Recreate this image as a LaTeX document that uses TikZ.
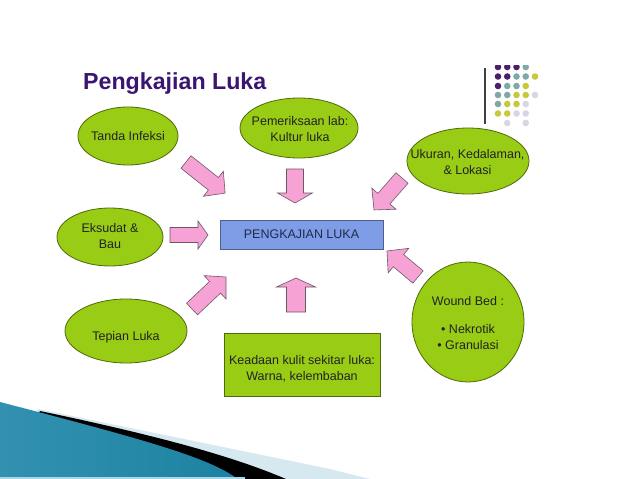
\documentclass[tikz,border=0pt]{standalone}
\usepackage{fontspec}
\setmainfont{Liberation Sans}
\usetikzlibrary{shapes.geometric}
\definecolor{lgreen}{HTML}{99CC14}
\definecolor{gborder}{HTML}{4F6A08}
\definecolor{bluefill}{HTML}{7F9CE6}
\definecolor{blueborder}{HTML}{4D5E8C}
\definecolor{pinkfill}{HTML}{F7A2D4}
\definecolor{pinkborder}{HTML}{6A5A66}
\definecolor{titlec}{HTML}{3A1670}
\definecolor{txt}{HTML}{222222}
\definecolor{navytxt}{HTML}{1F2B4A}
\definecolor{dpurple}{HTML}{4A1F6E}
\definecolor{dteal}{HTML}{7FA9A6}
\definecolor{dyellow}{HTML}{C8C83C}
\definecolor{dlav}{HTML}{D6D6E6}
\definecolor{lblue}{HTML}{D6E9F0}
\definecolor{tealA}{HTML}{3391B0}
\definecolor{tealB}{HTML}{66BFDB}
\definecolor{tealC}{HTML}{1C82A1}
\definecolor{stripc}{HTML}{A8D8E8}
\newcommand{\blockarr}[7]{% name, tail, angle, length, shaft half, head half, head length
  \coordinate (#1) at #2;
  \begin{scope}[shift={(#1)}, rotate=#3]
    \draw[pinkarrow] (0,-#5) -- ({#4-#7},-#5) -- ({#4-#7},-#6) -- (#4,0)
      -- ({#4-#7},#6) -- ({#4-#7},#5) -- (0,#5) -- cycle;
  \end{scope}}
\begin{document}
\begin{tikzpicture}[x=1pt,y=-1pt,
  greenell/.style={ellipse, draw=gborder, fill=lgreen, line width=0.8pt, inner sep=0pt},
  greenbox/.style={rectangle, draw=gborder, fill=lgreen, line width=0.8pt, inner sep=0pt},
  bluebox/.style={rectangle, draw=blueborder, fill=bluefill, line width=0.8pt, inner sep=0pt},
  lbl/.style={align=center, text=txt, inner sep=0pt, font=\fontsize{12.5}{16}\selectfont},
  pinkarrow/.style={draw=pinkborder, fill=pinkfill, line width=0.6pt, line join=miter}]
\useasboundingbox (0,0) rectangle (638,479);
\fill[white] (0,0) rectangle (638,479);

% title
\node[anchor=base west, inner sep=0pt, text=titlec, font=\bfseries\fontsize{23.2}{28}\selectfont] (title) at (83,89) {Pengkajian Luka};

% decoration: line and dots
\draw[line width=1.3pt, draw=black!75] (485,68) -- (485,124);
\begin{scope}
\clip (480,65) rectangle (560,140);
\foreach \c [count=\i from 0] in {dpurple,dpurple,dpurple,dteal}{\fill[\c] ({498+9.25*\i},67) circle (3.3);}
\foreach \c [count=\i from 0] in {dpurple,dpurple,dteal,dteal,dyellow}{\fill[\c] ({498+9.25*\i},76.5) circle (3.3);}
\foreach \c [count=\i from 0] in {dpurple,dteal,dteal,dyellow}{\fill[\c] ({498+9.25*\i},86) circle (3.3);}
\foreach \c [count=\i from 0] in {dteal,dteal,dyellow,dyellow,dlav}{\fill[\c] ({498+9.25*\i},95) circle (3.3);}
\foreach \c [count=\i from 0] in {dteal,dyellow,dyellow,dlav}{\fill[\c] ({498+9.25*\i},104) circle (3.3);}
\foreach \c [count=\i from 0] in {dyellow,dyellow,dlav,dlav}{\fill[\c] ({498+9.25*\i},113.5) circle (3.3);}
\fill[dlav] (507.25,123) circle (3.3);
\fill[dlav] (525.75,123) circle (3.3);
\end{scope}

% bottom-left swoosh
\fill[lblue] (38,409) -- (330,469) -- (370,479) -- (0,479) -- cycle;
\fill[black] (40,411) .. controls (150,434) and (230,455) .. (286,479) -- (0,479) -- cycle;
\shade[left color=tealA, middle color=tealB, right color=tealC]
  (0,402) .. controls (150,441) and (205,457) .. (235,477) -- (0,477) -- cycle;
\fill[stripc] (0,476.5) rectangle (245,479);

% shapes
\node[greenell, minimum width=100, minimum height=58] (tanda) at (128,136) {};
\node[greenell, minimum width=118, minimum height=60] (lab) at (299,128) {};
\node[greenell, minimum width=122, minimum height=66] (ukuran) at (468,161) {};
\node[greenell, minimum width=106, minimum height=58] (eksudat) at (110,237) {};
\node[bluebox, minimum width=163, minimum height=29] (pusat) at (301.5,234.5) {};
\node[greenell, minimum width=112, minimum height=120] (wound) at (468,322) {};
\node[greenell, minimum width=122, minimum height=64] (tepian) at (126,331) {};
\node[greenbox, minimum width=156, minimum height=63] (keadaan) at (302,364.5) {};

% texts
\node[lbl] (tanda-t) at (128,136) {Tanda Infeksi};
\node[lbl] (lab-t) at (300,129) {Pemeriksaan lab:\\Kultur luka};
\node[lbl] (ukuran-t) at (467.5,162) {Ukuran, Kedalaman,\\\& Lokasi};
\node[lbl] (eksudat-t) at (110,236) {Eksudat \&\\Bau};
\node[lbl, text=navytxt] (pusat-t) at (301.5,234.5) {PENGKAJIAN LUKA};
\node[lbl] (wound-t) at (468,323.5) {Wound Bed :\\[12pt]• Nekrotik\\• Granulasi};
\node[lbl] (tepian-t) at (126,337) {Tepian Luka};
\node[lbl] (keadaan-t) at (302,368.5) {Keadaan kulit sekitar luka:\\Warna, kelembaban};

% block arrows
\blockarr{a1}{(186,162)}{-38.5}{50}{8}{16}{15}
\blockarr{a2}{(295,169)}{-90}{34}{8.5}{17.5}{10}
\blockarr{a3}{(402,178)}{-131.2}{42.5}{8}{16}{15}
\blockarr{a4}{(170,235)}{0}{38}{7.5}{14}{10}
\blockarr{a5}{(418,277)}{140}{40.5}{8}{16}{15}
\blockarr{a6}{(192,309)}{43.3}{46.7}{8}{16}{15}
\blockarr{a7}{(296,312)}{90}{34}{9.5}{19.5}{9}
\end{tikzpicture}
\end{document}
